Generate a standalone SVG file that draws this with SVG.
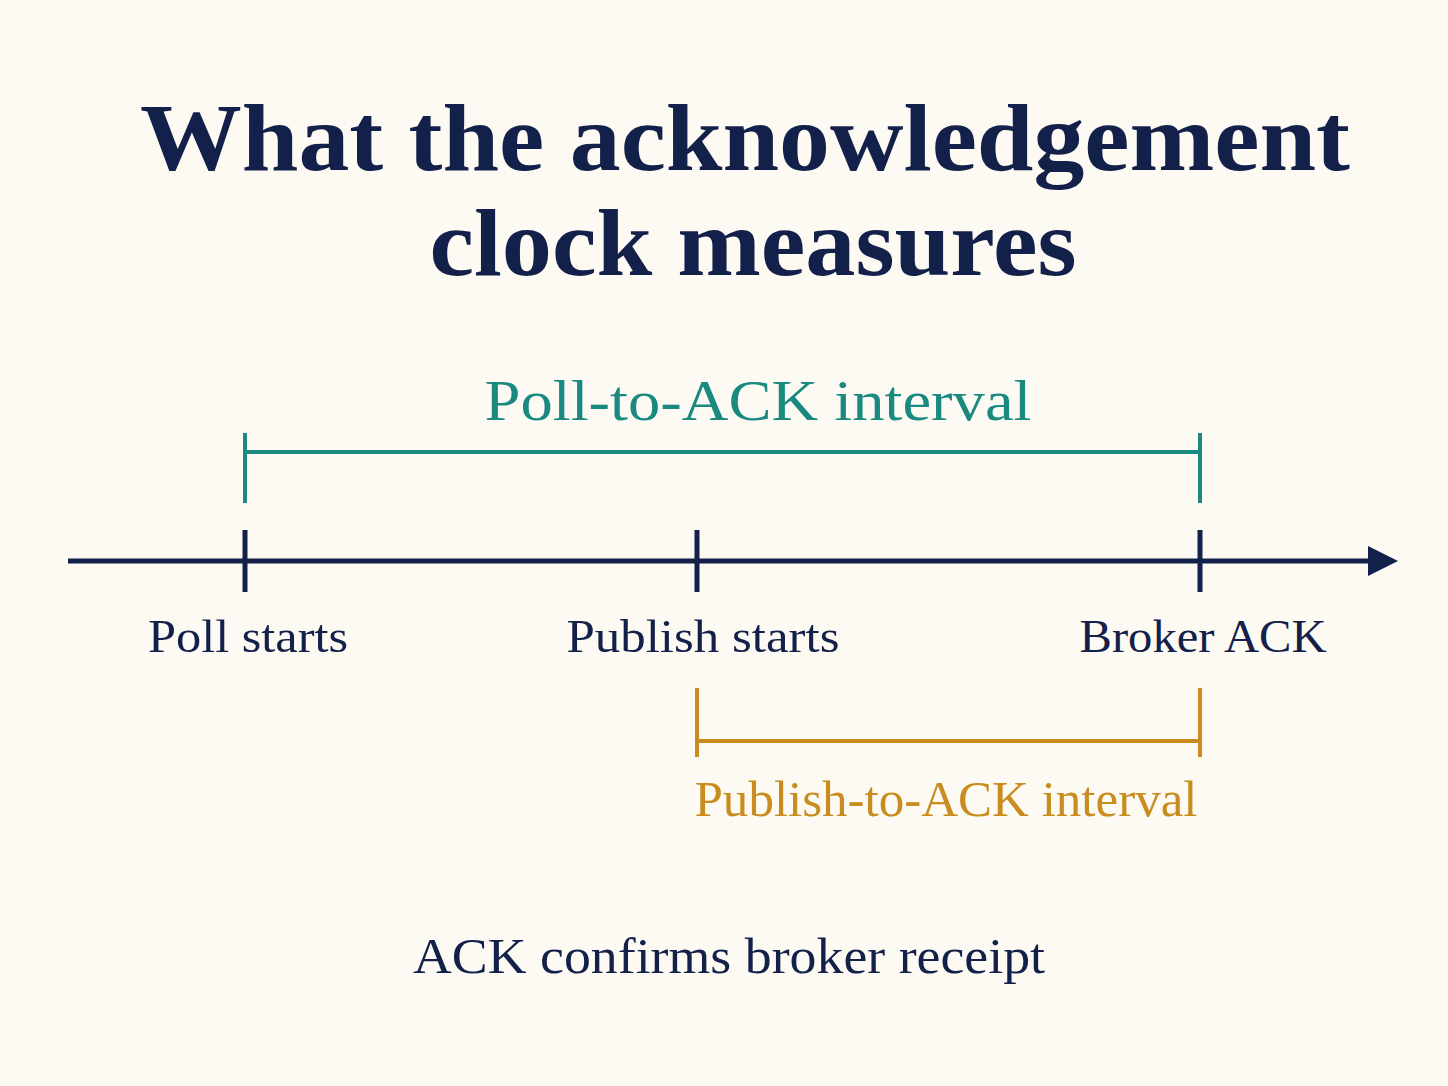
<svg xmlns="http://www.w3.org/2000/svg" width="1448" height="1086" viewBox="0 0 1448 1086">
<defs>
<style>
text{font-family:"Liberation Serif","DejaVu Serif",serif;text-anchor:middle}
.title{font-size:96px;font-weight:bold;fill:#13204a}
.lab{font-size:46px;fill:#13204a}
.navy{stroke:#13204a;stroke-width:5;fill:none}
.teal{stroke:#1a8a80;stroke-width:4;fill:none}
.gold{stroke:#c98c1e;stroke-width:4;fill:none}
</style>
</defs>
<rect width="1448" height="1086" fill="#fcfaf3"/>
<g id="title">
<text class="title" x="745" y="170" textLength="1210" lengthAdjust="spacingAndGlyphs">What the acknowledgement</text>
<text class="title" x="753" y="275" textLength="647" lengthAdjust="spacingAndGlyphs">clock measures</text>
</g>
<g id="connectors">
<path class="navy" d="M68,561 H1372"/>
<path d="M1368,546 L1398,561 L1368,576 Z" fill="#13204a"/>
<path class="navy" d="M245,530 V592 M697,530 V592 M1200,530 V592"/>
<path class="teal" d="M245,433 V503 M245,452 H1200 M1200,433 V503"/>
<path class="gold" d="M697,688 V757 M697,741 H1200 M1200,688 V757"/>
</g>
<g id="poll-to-ack"><text x="758" y="420" font-size="58" fill="#1a8a80" textLength="547" lengthAdjust="spacingAndGlyphs">Poll-to-ACK interval</text></g>
<g id="poll-starts"><text class="lab" x="248" y="652" textLength="200" lengthAdjust="spacingAndGlyphs">Poll starts</text></g>
<g id="publish-starts"><text class="lab" x="703" y="652" textLength="273" lengthAdjust="spacingAndGlyphs">Publish starts</text></g>
<g id="broker-ack"><text class="lab" x="1203" y="652" textLength="247" lengthAdjust="spacingAndGlyphs">Broker ACK</text></g>
<g id="publish-to-ack"><text x="946" y="816" font-size="50" fill="#c98c1e" textLength="503" lengthAdjust="spacingAndGlyphs">Publish-to-ACK interval</text></g>
<g id="footer"><text x="729" y="973" font-size="50" fill="#13204a" textLength="632" lengthAdjust="spacingAndGlyphs">ACK confirms broker receipt</text></g>
</svg>
